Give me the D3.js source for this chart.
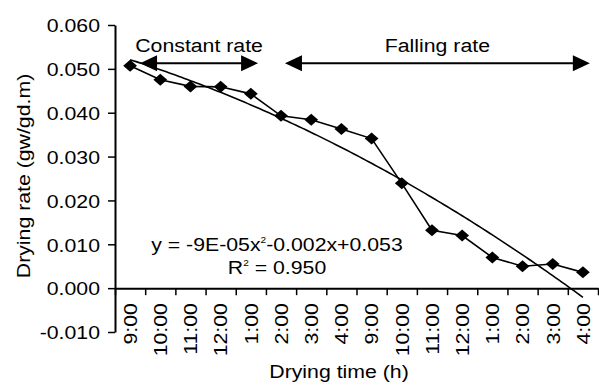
<!DOCTYPE html>
<html>
<head>
<meta charset="utf-8">
<script src="https://cdn.jsdelivr.net/npm/d3@7/dist/d3.min.js"></script>
<style>
  body { margin: 0; background: #fff; }
  svg { display: block; font-family: "Liberation Sans", Arial, sans-serif; }
</style>
</head>
<body>
<svg id="chart" width="599" height="386"></svg>
<script>
// drying time categories (two drying days) and measured drying rate
var categories = ["9:00", "10:00", "11:00", "12:00", "1:00", "2:00", "3:00", "4:00",
                  "9:00", "10:00", "11:00", "12:00", "1:00", "2:00", "3:00", "4:00"];
var dryingRate = [0.0507, 0.0475, 0.0460, 0.0459, 0.0443, 0.0393, 0.0384, 0.0363,
                  0.0341, 0.0239, 0.0132, 0.0120, 0.0070, 0.0050, 0.0055, 0.0036];
var yTicks = [-0.01, 0, 0.01, 0.02, 0.03, 0.04, 0.05, 0.06];
var phases = ["Constant rate", "Falling rate"];

var svg = d3.select("#chart");
var stretch = 1.12; // text in the original is drawn a bit wide
var fontSize = "19px";

var xBand = d3.scaleBand()
    .domain(d3.range(categories.length))
    .range([115, 598]);
// same axis in "band units", used for the trend curve and the annotations
var xPos = d3.scaleLinear()
    .domain([0, categories.length])
    .range([115, 598]);
var yScale = d3.scaleLinear().domain([-0.01, 0.06]).range([332, 25]);

// quadratic least squares, like the spreadsheet trendline
function polyfit2(xs, ys) {
    var s = function (k) { return d3.sum(xs, function (x) { return Math.pow(x, k); }); };
    var t = function (k) { return d3.sum(xs, function (x, i) { return Math.pow(x, k) * ys[i]; }); };
    var A = [[s(4), s(3), s(2)], [s(3), s(2), s(1)], [s(2), s(1), s(0)]];
    var B = [t(2), t(1), t(0)];
    for (var i = 0; i < 3; i++) {
        for (var j = i + 1; j < 3; j++) {
            var f = A[j][i] / A[i][i];
            for (var k = i; k < 3; k++) A[j][k] -= f * A[i][k];
            B[j] -= f * B[i];
        }
    }
    var c = [0, 0, 0];
    for (var i2 = 2; i2 >= 0; i2--) {
        var v = B[i2];
        for (var k2 = i2 + 1; k2 < 3; k2++) v -= A[i2][k2] * c[k2];
        c[i2] = v / A[i2][i2];
    }
    return c;
}

var xIdx = dryingRate.map(function (d, i) { return i + 1; });
var coef = polyfit2(xIdx, dryingRate);

// y axis
var yAxis = svg.append("g")
    .attr("transform", "translate(115,0)")
    .call(d3.axisLeft(yScale)
        .tickValues(yTicks)
        .tickFormat(function (d) { return d.toFixed(3); })
        .tickSize(7)
        .tickSizeOuter(0));
yAxis.select(".domain").attr("stroke-width", 2);
yAxis.selectAll(".tick line").attr("stroke-width", 1.5);
yAxis.selectAll(".tick text")
    .attr("x", -15 / stretch)
    .attr("dy", "0.36em")
    .attr("transform", "scale(" + stretch + ",1)")
    .style("font-size", fontSize)
    .attr("fill", "#000");

// x axis: tick marks on the category boundaries
var xAxis = svg.append("g")
    .attr("transform", "translate(0," + yScale(0) + ")")
    .call(d3.axisBottom(xPos)
        .tickValues(d3.range(categories.length + 1))
        .tickFormat("")
        .tickSize(7)
        .tickSizeOuter(0));
xAxis.select(".domain").attr("stroke-width", 2);
xAxis.selectAll(".tick line").attr("stroke-width", 1.5);

// category labels, rotated
var xLabels = svg.append("g")
    .attr("transform", "translate(0," + yScale(0) + ")")
    .call(d3.axisBottom(xBand)
        .tickSize(0)
        .tickFormat(function (i) { return categories[i]; }));
xLabels.select(".domain").remove();
xLabels.selectAll(".tick text")
    .attr("x", -15 / stretch)
    .attr("y", 0)
    .attr("dy", "0.36em")
    .attr("text-anchor", "end")
    .attr("transform", "rotate(-90) scale(" + stretch + ",1)")
    .style("font-size", fontSize)
    .attr("fill", "#000");

// axis titles
svg.append("text")
    .attr("transform", "translate(339,378) scale(" + stretch + ",1)")
    .attr("text-anchor", "middle")
    .style("font-size", fontSize)
    .text("Drying time (h)");

svg.append("text")
    .attr("transform", "translate(30,176) rotate(-90) scale(" + stretch + ",1)")
    .attr("text-anchor", "middle")
    .style("font-size", fontSize)
    .text("Drying rate (gw/gd.m)");

// trend curve
var trend = d3.range(1, categories.length + 0.001, 0.1);
var trendLine = d3.line()
    .x(function (d) { return xPos(d - 0.5); })
    .y(function (d) { return yScale(coef[0] * d * d + coef[1] * d + coef[2]); });
svg.append("path")
    .datum(trend)
    .attr("fill", "none")
    .attr("stroke", "#000")
    .attr("stroke-width", 1.6)
    .attr("d", trendLine);

// data line and markers
var dataLine = d3.line()
    .x(function (d, i) { return xBand(i) + xBand.bandwidth() / 2; })
    .y(function (d) { return yScale(d); });
svg.append("path")
    .datum(dryingRate)
    .attr("fill", "none")
    .attr("stroke", "#000")
    .attr("stroke-width", 1.6)
    .attr("d", dataLine);

svg.append("g")
    .selectAll("path")
    .data(dryingRate)
    .enter()
    .append("path")
    .attr("d", d3.symbol(d3.symbolSquare, 72))
    .attr("transform", function (d, i) {
        return "translate(" + (xBand(i) + xBand.bandwidth() / 2) + "," + yScale(d) +
            ") scale(1.15,1) rotate(45)";
    })
    .attr("fill", "#000");

// equation and R squared
var eq = svg.append("text")
    .attr("transform", "translate(277,251) scale(" + stretch + ",1)")
    .attr("text-anchor", "middle")
    .style("font-size", fontSize);
eq.append("tspan").text("y = -9E-05x");
eq.append("tspan").attr("dy", -8).style("font-size", "9px").text("2");
eq.append("tspan").attr("dy", 8).text("-0.002x+0.053");

var r2 = svg.append("text")
    .attr("transform", "translate(277,274) scale(" + stretch + ",1)")
    .attr("text-anchor", "middle")
    .style("font-size", fontSize);
r2.append("tspan").text("R");
r2.append("tspan").attr("dy", -8).style("font-size", "9px").text("2");
r2.append("tspan").attr("dy", 8).text(" = 0.950");

// phase arrows
var arrowY = yScale(0.0513);
var arrows = [[0.83, 4.74], [5.63, 15.73]];
var headL = 17, headH = 8;
arrows.forEach(function (a, i) {
    var x0 = xPos(a[0]), x1 = xPos(a[1]);
    svg.append("line")
        .attr("x1", x0 + headL - 1).attr("x2", x1 - headL + 1)
        .attr("y1", arrowY).attr("y2", arrowY)
        .attr("stroke", "#000")
        .attr("stroke-width", 2);
    var p = d3.path();
    p.moveTo(x0, arrowY);
    p.lineTo(x0 + headL, arrowY - headH);
    p.lineTo(x0 + headL, arrowY + headH);
    p.closePath();
    p.moveTo(x1, arrowY);
    p.lineTo(x1 - headL, arrowY - headH);
    p.lineTo(x1 - headL, arrowY + headH);
    p.closePath();
    svg.append("path").attr("d", p).attr("fill", "#000");
    svg.append("text")
        .attr("transform", "translate(" + (x0 + x1) / 2 + "," + (yScale(0.0539) + 0.5) + ") scale(" + stretch + ",1)")
        .attr("text-anchor", "middle")
        .style("font-size", fontSize)
        .text(phases[i]);
});
</script>
</body>
</html>
